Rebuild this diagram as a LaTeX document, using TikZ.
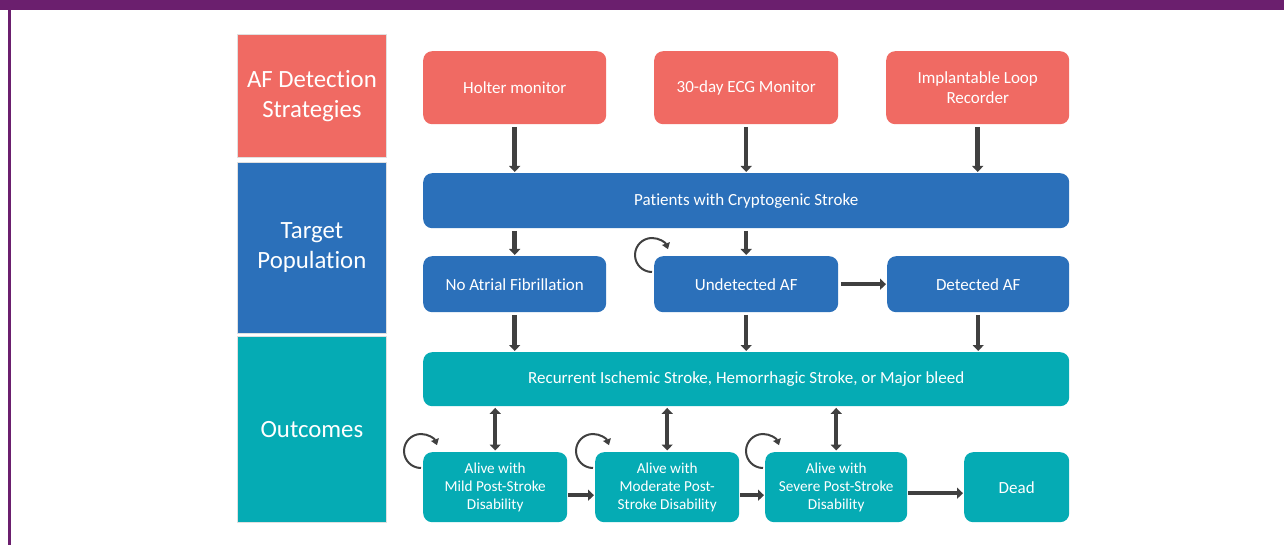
\documentclass[tikz,border=0pt]{standalone}
\usepackage{fontspec}
\setmainfont{Carlito}[Ligatures=NoCommon]
\usetikzlibrary{arrows.meta,calc}
\definecolor{salmon}{HTML}{F06A63}
\definecolor{bblue}{HTML}{2B70BA}
\definecolor{tealc}{HTML}{05ABB4}
\definecolor{purp}{HTML}{6B1F6E}
\definecolor{arrgray}{HTML}{404040}
\begin{document}
\begin{tikzpicture}[x=1pt,y=-1pt,
 box/.style={anchor=north west, rounded corners=9pt, inner sep=0pt, text=white, align=center, font=\fontsize{17}{20.5}\selectfont},
 small/.style={font=\fontsize{15.2}{18}\selectfont},
 side/.style={anchor=north west, inner sep=0pt, text=white, align=center, draw=white!88!black, line width=0.8pt, font=\fontsize{24.8}{30}\selectfont},
 arr/.style={draw=arrgray, line width=4.5pt, -{Triangle[length=6pt,width=11pt]}, shorten <=2.5pt, shorten >=1pt},
 darr/.style={draw=arrgray, line width=4.5pt, {Triangle[length=6pt,width=11pt]}-{Triangle[length=6pt,width=11pt]}, shorten <=1.5pt, shorten >=1.5pt},
 selfloop/.style={draw=arrgray, line width=2pt, -{Triangle[length=6pt,width=8pt]}}]
\useasboundingbox (0,0) rectangle (1284,545);
\fill[white] (0,0) rectangle (1284,545);
\fill[purp] (0,0) rectangle (1284,10);
\fill[purp] (8,0) rectangle (10.5,545);

% left column
\node[side, fill=salmon, minimum width=149pt, minimum height=123pt] (s1) at (237,34) {AF Detection\\Strategies};
\node[side, fill=bblue, minimum width=149pt, minimum height=171pt] (s2) at (237,162) {Target\\Population};
\node[side, fill=tealc, minimum width=149pt, minimum height=186pt] (s3) at (237,336) {Outcomes};

% detection strategies
\node[box, fill=salmon, minimum width=183pt, minimum height=73pt] (holter) at (423,51) {Holter monitor};
\node[box, fill=salmon, minimum width=184pt, minimum height=73pt] (ecg) at (654,51) {30-day ECG Monitor};
\node[box, fill=salmon, minimum width=183pt, minimum height=73pt] (ilr) at (886,51) {Implantable Loop\\Recorder};

% population
\node[box, fill=bblue, minimum width=646pt, minimum height=55pt] (pat) at (423,173) {Patients with Cryptogenic Stroke};
\node[box, fill=bblue, minimum width=183pt, minimum height=56pt] (noaf) at (423,256) {No Atrial Fibrillation};
\node[box, fill=bblue, minimum width=184pt, minimum height=56pt] (und) at (654,256) {Undetected AF};
\node[box, fill=bblue, minimum width=182pt, minimum height=56pt] (det) at (887,256) {Detected AF};

% outcomes
\node[box, fill=tealc, minimum width=646pt, minimum height=54pt] (rec) at (423,352) {Recurrent Ischemic Stroke, Hemorrhagic Stroke, or Major bleed};
\node[box, small, fill=tealc, minimum width=144pt, minimum height=70pt] (mild) at (423,452) {Alive with\\Mild Post-Stroke\\Disability};
\node[box, small, fill=tealc, minimum width=144pt, minimum height=70pt] (mod) at (595,452) {Alive with\\Moderate Post-\\Stroke Disability};
\node[box, small, fill=tealc, minimum width=142pt, minimum height=70pt] (sev) at (765,452) {Alive with\\Severe Post-Stroke\\Disability};
\node[box, fill=tealc, minimum width=105pt, minimum height=70pt] (dead) at (964,452) {Dead};

% arrows top
\draw[arr] (holter.south) -- (holter.south |- pat.north);
\draw[arr] (ecg.south) -- (ecg.south |- pat.north);
\draw[arr] (ilr.south) -- (ilr.south |- pat.north);
\draw[arr] (pat.south -| noaf.north) -- (noaf.north);
\draw[arr] (pat.south -| und.north) -- (und.north);
\draw[arr] (und.east) -- (det.west);
\draw[arr] (noaf.south) -- (noaf.south |- rec.north);
\draw[arr] (und.south) -- (und.south |- rec.north);
\draw[arr] (det.south) -- (det.south |- rec.north);

% double arrows
\draw[darr] (mild.north |- rec.south) -- (mild.north);
\draw[darr] (mod.north |- rec.south) -- (mod.north);
\draw[darr] (sev.north |- rec.south) -- (sev.north);

% bottom horizontal
\draw[arr, shorten <=1pt] ($(mild.east)+(0,8)$) -- ($(mod.west)+(0,8)$);
\draw[arr, shorten <=1pt] ($(mod.east)+(0,8)$) -- ($(sev.west)+(0,8)$);
\draw[arr, shorten <=1pt] ($(sev.east)+(0,6)$) -- ($(dead.west)+(0,6)$);

% self loops
\draw[selfloop] ($(und.north west)+(-2,16)$) arc[start angle=90, end angle=340, radius=17];
\draw[selfloop] ($(mild.north west)+(-2,16)$) arc[start angle=90, end angle=340, radius=17];
\draw[selfloop] ($(mod.north west)+(-2,16)$) arc[start angle=90, end angle=340, radius=17];
\draw[selfloop] ($(sev.north west)+(-2,16)$) arc[start angle=90, end angle=340, radius=17];
\end{tikzpicture}
\end{document}
